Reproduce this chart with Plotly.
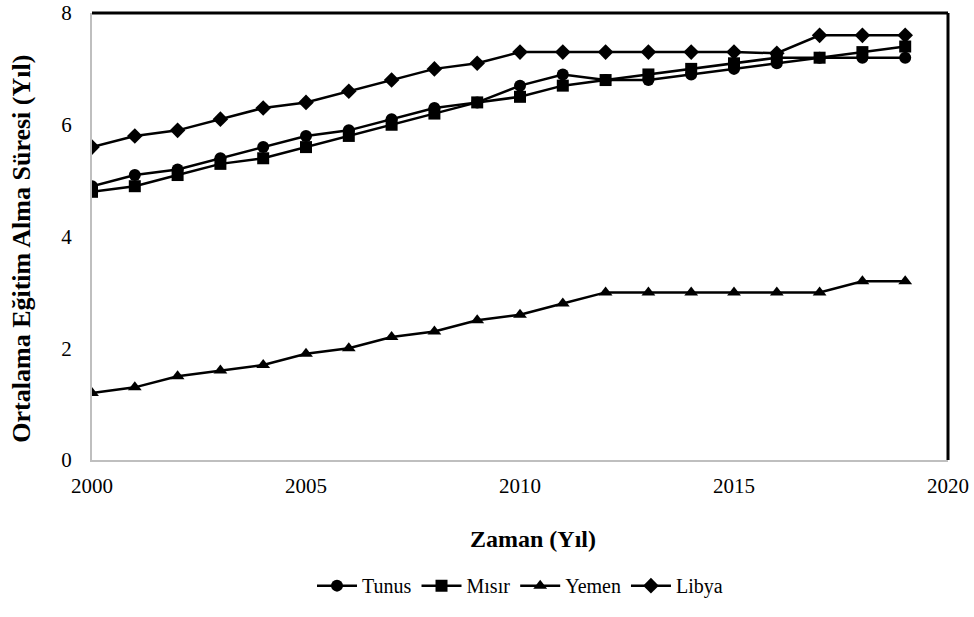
import plotly.graph_objects as go

years = list(range(2000, 2020))
tunus = [4.9, 5.1, 5.2, 5.4, 5.6, 5.8, 5.9, 6.1, 6.3, 6.4, 6.7, 6.9, 6.8, 6.8, 6.9, 7.0, 7.1, 7.2, 7.2, 7.2]
misir = [4.8, 4.9, 5.1, 5.3, 5.4, 5.6, 5.8, 6.0, 6.2, 6.4, 6.5, 6.7, 6.8, 6.9, 7.0, 7.1, 7.2, 7.2, 7.3, 7.4]
yemen = [1.2, 1.3, 1.5, 1.6, 1.7, 1.9, 2.0, 2.2, 2.3, 2.5, 2.6, 2.8, 3.0, 3.0, 3.0, 3.0, 3.0, 3.0, 3.2, 3.2]
libya = [5.6, 5.8, 5.9, 6.1, 6.3, 6.4, 6.6, 6.8, 7.0, 7.1, 7.3, 7.3, 7.3, 7.3, 7.3, 7.3, 7.28, 7.6, 7.6, 7.6]

series = [
    ("Tunus", tunus, "circle", 12),
    ("Mısır", misir, "square", 12),
    ("Yemen", yemen, "triangle-up", 12),
    ("Libya", libya, "diamond", 12),
]

fig = go.Figure()
for name, vals, sym, sz in series:
    fig.add_trace(go.Scatter(
        x=years, y=vals, name=name, mode="lines+markers",
        line=dict(color="black", width=2.5),
        marker=dict(symbol=sym, size=sz, color="black"),
    ))

font_family = "Liberation Serif"
fig.update_layout(
    width=974, height=617,
    margin=dict(l=92, r=26, t=13, b=145),
    paper_bgcolor="white", plot_bgcolor="white",
    font=dict(family=font_family, size=20, color="black"),
    showlegend=True,
    legend=dict(orientation="h", x=0.5, xanchor="center", y=(472-601)/459, yanchor="middle",
                font=dict(family=font_family, size=20), itemwidth=40, traceorder="normal"),
    xaxis=dict(range=[2000, 2020], tickvals=[2000, 2005, 2010, 2015, 2020],
               showgrid=False, zeroline=False, showline=True, linecolor="#bfbfbf", linewidth=2,
               ticks="", tickfont=dict(family=font_family, size=21), automargin=False,
               ticklabelstandoff=6),
    yaxis=dict(range=[0, 8], tickvals=[0, 2, 4, 6, 8],
               showgrid=False, zeroline=False, showline=True, linecolor="#bfbfbf", linewidth=2,
               ticks="", tickfont=dict(family=font_family, size=21), ticklabelstandoff=14,
               automargin=False),
    annotations=[
        dict(text="<b>Zaman (Yıl)</b>", xref="paper", yref="paper", x=(533-92)/856, y=(472-553)/459,
             xanchor="center", yanchor="middle", showarrow=False,
             font=dict(family=font_family, size=24)),
        dict(text="<b>Ortalama Eğitim Alma Süresi (Yıl)</b>", xref="paper", yref="paper",
             x=(22-92)/856, y=(472-255)/459, textangle=-90,
             xanchor="center", yanchor="middle", showarrow=False,
             font=dict(family=font_family, size=26)),
    ],
    shapes=[
        dict(type="line", xref="paper", yref="paper", x0=0, x1=1, y0=1, y1=1,
             line=dict(color="black", width=3)),
        dict(type="line", xref="paper", yref="paper", x0=1, x1=1, y0=0, y1=1,
             line=dict(color="black", width=3)),
    ],
)

fig.write_html("out.html", config={"displayModeBar": False},
               post_script="document.body.style.margin='0';document.body.style.overflow='hidden';")
